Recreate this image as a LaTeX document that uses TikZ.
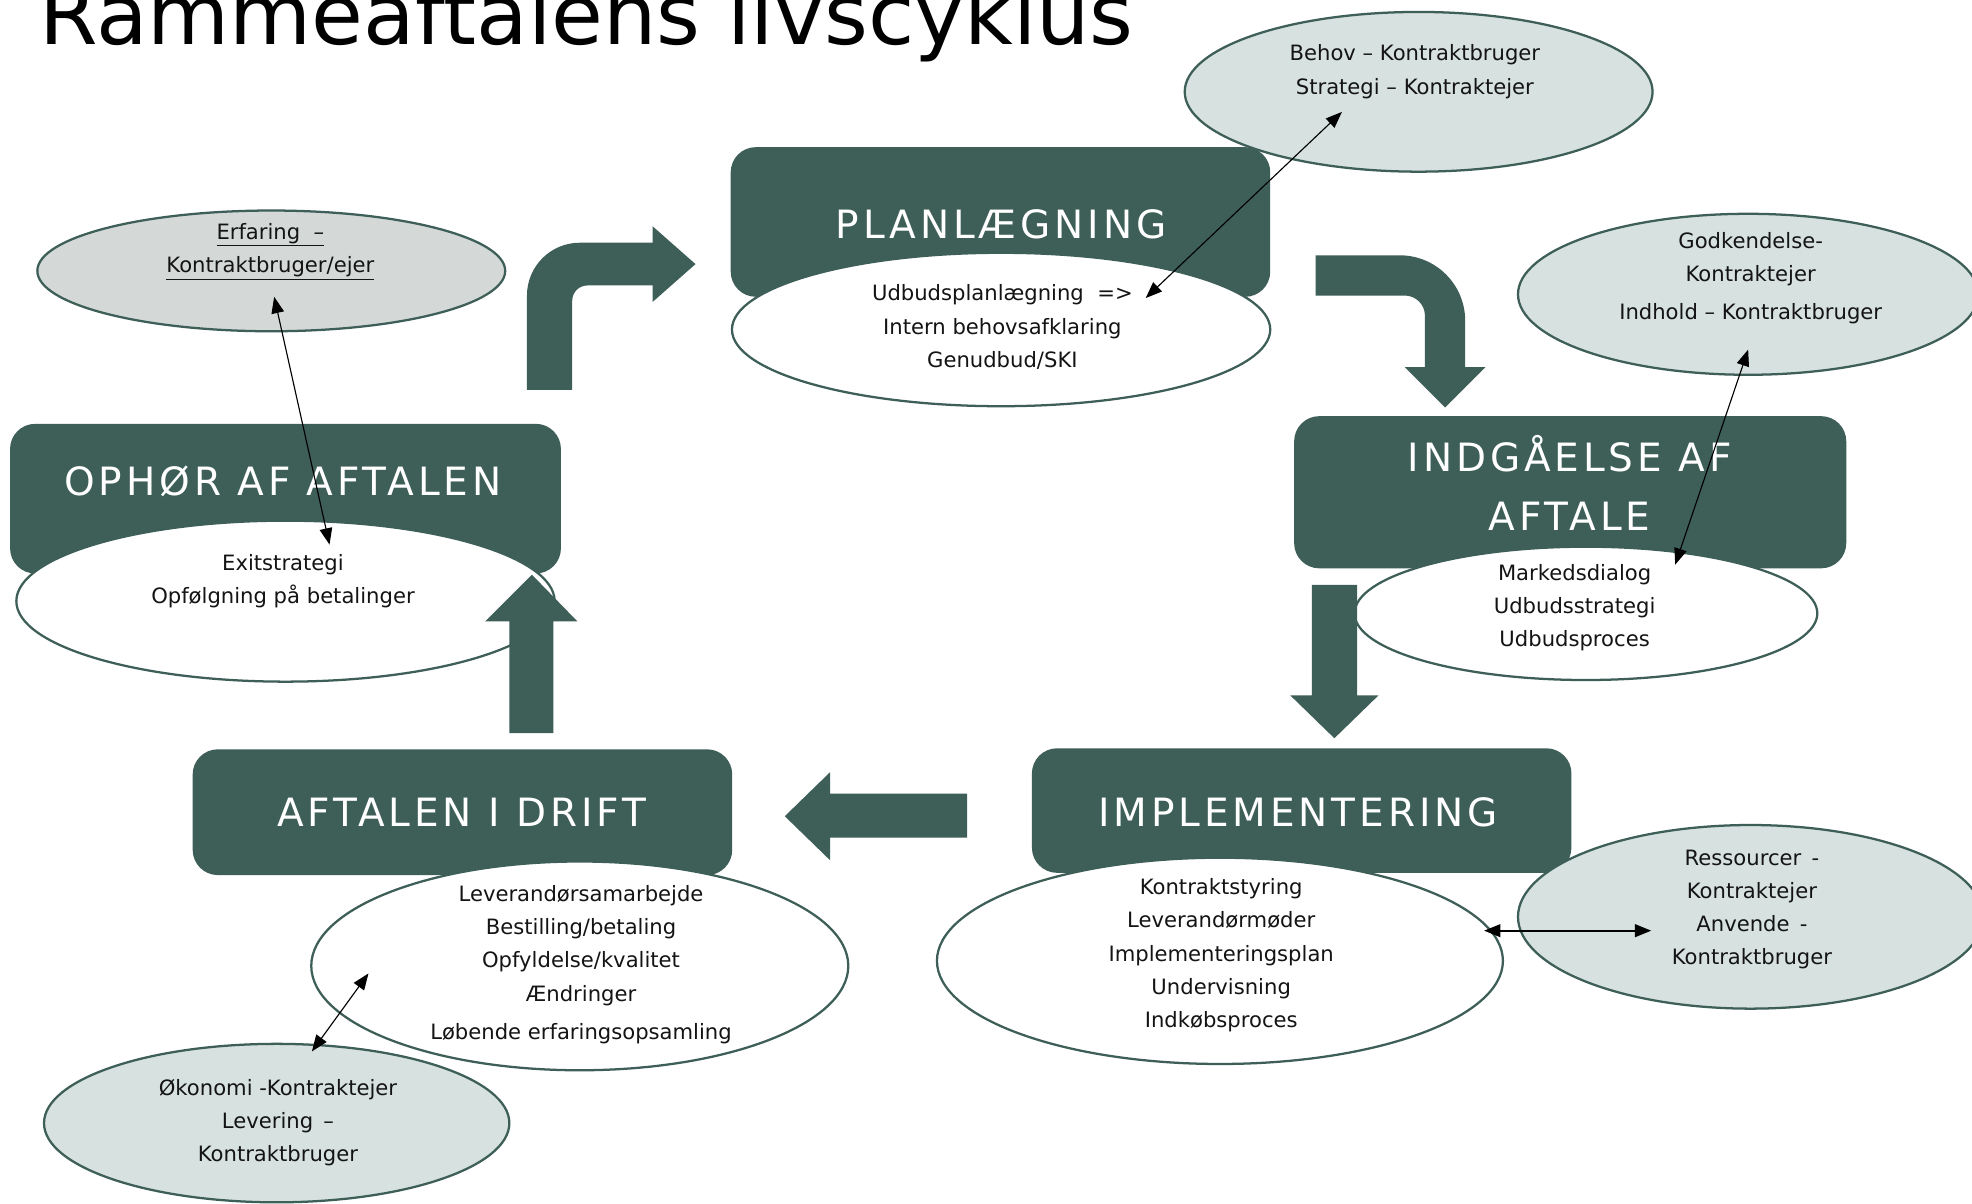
\documentclass[tikz,border=0pt]{standalone}
\usepackage{fontspec}
\setmainfont{DejaVu Sans}
\newfontfamily\boxfont[LetterSpace=10]{DejaVu Sans}
\usetikzlibrary{shapes.geometric,arrows.meta}
\definecolor{dk}{RGB}{62,94,88}
\definecolor{lt}{RGB}{214,225,224}
\definecolor{ltg}{RGB}{212,217,215}
\definecolor{ink}{RGB}{20,20,20}
\tikzset{
  stagebox/.style={fill=dk, draw=none, rounded corners=20pt, inner sep=0pt},
  stagetitle/.style={text=white, font=\boxfont\fontsize{31}{46.5}\selectfont, align=center, inner sep=0pt},
  whiteell/.style={ellipse, draw=dk, line width=1.8pt, fill=white, inner sep=0pt},
  lightell/.style={ellipse, draw=dk, line width=1.8pt, fill=lt, inner sep=0pt},
  body/.style={text=ink, font=\fontsize{16.8}{26.3}\selectfont, align=center, inner sep=0pt},
  conn/.style={draw=black, line width=0.9pt, arrows={Triangle[length=13pt,width=10pt]-Triangle[length=13pt,width=10pt]}},
  blockarrow/.style={fill=dk, draw=none},
}
\begin{document}
\begin{tikzpicture}[x=1pt,y=-1pt]
\useasboundingbox (0,0) rectangle (1568,957);
\clip (0,0) rectangle (1568,957);
\fill[white] (0,0) rectangle (1568,957);

% title
\node[anchor=base west, inner sep=0pt, font=\fontsize{67}{80}\selectfont] (title) at (31,35) {Rammeaftalens livscyklus};

% ellipse behind the planning box
\node[lightell, minimum width=372pt, minimum height=127pt] (ebehov) at (1128,73) {};

% stage boxes
\node[stagebox, minimum width=429pt, minimum height=119pt] (bplan) at (795.5,176.5) {};
\node[stagebox, minimum width=438pt, minimum height=119pt] (bophor) at (227,396.5) {};
\node[stagebox, minimum width=439pt, minimum height=121pt] (bindg) at (1248.5,391.4) {};
\node[stagebox, minimum width=429pt, minimum height=99pt] (bimpl) at (1035,644.5) {};
\node[stagebox, minimum width=429pt, minimum height=100pt] (bdrift) at (367.7,645.8) {};

% ellipses
\node[whiteell, minimum width=428pt, minimum height=122pt] (eplan) at (796,262) {};
\node[lightell, fill=ltg, minimum width=372pt, minimum height=96pt] (eerf) at (215.7,215.4) {};
\node[whiteell, minimum width=428pt, minimum height=128pt] (eexit) at (227,478) {};
\node[lightell, minimum width=366pt, minimum height=128pt] (egodk) at (1390,234) {};
\node[whiteell, minimum width=368pt, minimum height=106pt] (emark) at (1261,487.7) {};
\node[whiteell, minimum width=450pt, minimum height=164pt] (eimpl) at (970,764) {};
\node[lightell, minimum width=370pt, minimum height=146pt] (eres) at (1392,729) {};
\node[whiteell, minimum width=427pt, minimum height=166pt] (edrift) at (461,768) {};
\node[lightell, minimum width=370pt, minimum height=126pt] (eokon) at (220,893) {};

% block arrows
\fill[blockarrow] (419,310) -- (419,235) .. controls (419,211.8) and (437.8,193) .. (461,193)
  -- (519,193) -- (519,180) -- (553,210) -- (519,240) -- (519,227) -- (467,227)
  .. controls (460.4,227) and (455,232.4) .. (455,239) -- (455,310) -- cycle;
\fill[blockarrow] (1046,203) -- (1113,203) .. controls (1141.7,203) and (1165,226.3) .. (1165,255)
  -- (1165,292) -- (1181,292) -- (1149,324) -- (1117,292) -- (1133,292) -- (1133,251)
  .. controls (1133,242.2) and (1125.8,235) .. (1117,235) -- (1046,235) -- cycle;
\fill[blockarrow] (1043,465) -- (1079,465) -- (1079,553) -- (1096,553) -- (1061,587) -- (1026,553) -- (1043,553) -- cycle;
\fill[blockarrow] (769,631) -- (660,631) -- (660,614) -- (624,649) -- (660,684) -- (660,666) -- (769,666) -- cycle;
\fill[blockarrow] (405,583) -- (405,494) -- (386,494) -- (423,457) -- (459,494) -- (440,494) -- (440,583) -- cycle;

% stage titles
\node[stagetitle] (tplan) at (796,178) {PLANLÆGNING};
\node[stagetitle] (tophor) at (225,383) {OPHØR AF AFTALEN};
\node[stagetitle] (tindg) at (1248,384) {INDGÅELSE AF\\AFTALE};
\node[stagetitle] (timpl) at (1032,646) {IMPLEMENTERING};
\node[stagetitle] (tdrift) at (367,646) {AFTALEN I DRIFT};

% texts
\node[body] (xplan) at (797,260) {Udbudsplanlægning \ =>\\Intern behovsafklaring\\Genudbud/SKI};
\node[body] (xbehov) at (1125,57) {Behov – Kontraktbruger\\Strategi – Kontraktejer};
\node[body] (xerf) at (215,200) {\underline{Erfaring \ –}\\\underline{Kontraktbruger/ejer}};
\node[body] (xexit) at (225,462) {Exitstrategi\\Opfølgning på betalinger};
\node[body] (xgodk) at (1392,221) {Godkendelse-\\Kontraktejer\\[4pt]Indhold – Kontraktbruger};
\node[body] (xmark) at (1252,483) {Markedsdialog\\Udbudsstrategi\\Udbudsproces};
\node[body] (ximpl) at (971,759.5) {Kontraktstyring\\Leverandørmøder\\Implementeringsplan\\Undervisning\\Indkøbsproces};
\node[body] (xres) at (1393,723) {Ressourcer \,-\\Kontraktejer\\Anvende \,-\\Kontraktbruger};
\node[body] (xdrift) at (462,767) {Leverandørsamarbejde\\Bestilling/betaling\\Opfyldelse/kvalitet\\Ændringer\\[4pt]Løbende erfaringsopsamling};
\node[body] (xokon) at (221,892.5) {Økonomi -Kontraktejer\\Levering \,–\\Kontraktbruger};

% connectors
\coordinate (c1a) at (1067,89);
\coordinate (c1b) at (911,237);
\coordinate (c2a) at (218,236);
\coordinate (c2b) at (262,433);
\coordinate (c3a) at (1390,278);
\coordinate (c3b) at (1332,449);
\coordinate (c4a) at (1180,740);
\coordinate (c4b) at (1313,740);
\coordinate (c5a) at (293,774);
\coordinate (c5b) at (248,836);
\draw[conn] (c1a) -- (c1b);
\draw[conn] (c2a) -- (c2b);
\draw[conn] (c3a) -- (c3b);
\draw[conn, line width=1.8pt] (c4a) -- (c4b);
\draw[conn] (c5a) -- (c5b);
\end{tikzpicture}
\end{document}
